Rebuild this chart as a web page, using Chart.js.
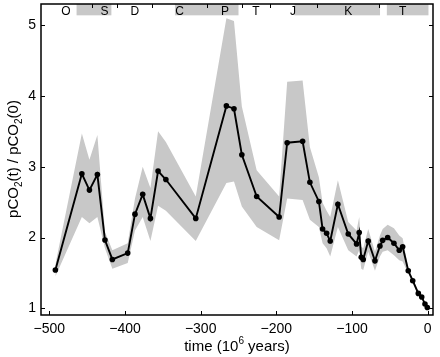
<!DOCTYPE html>
<html>
<head>
<meta charset="utf-8">
<script src="https://cdn.jsdelivr.net/npm/chart.js@4"></script>
<style>
html,body{margin:0;padding:0;background:#fff;}
canvas{display:block;}
</style>
</head>
<body>
<canvas id="c" width="440" height="357"></canvas>
<script>
// time (Myr before present)
const times = [-492,-457,-447,-436.5,-426.5,-416.7,-396.4,-386.8,-376.6,-366.4,-356.3,-346,-306.5,-266,-256,-245.6,-226,-196.3,-185.7,-165.3,-155.7,-143.8,-138.9,-133.6,-128.8,-118.7,-105,-94,-90.5,-87.8,-85.2,-78.6,-69.7,-63.1,-59.5,-52.9,-44.6,-37.6,-33.1,-25.7,-19.8,-12.4,-7.9,-3.6,-0.5];
// pCO2(t)/pCO2(0)
const values = [1.54,2.90,2.67,2.89,1.965,1.69,1.78,2.33,2.61,2.27,2.94,2.82,2.27,3.86,3.82,3.17,2.58,2.29,3.34,3.36,2.78,2.51,2.12,2.06,1.95,2.47,2.05,1.91,2.07,1.72,1.69,1.95,1.67,1.88,1.96,2.00,1.92,1.82,1.87,1.53,1.39,1.21,1.16,1.06,1.01];
const upperBound = [1.62,3.47,3.10,3.45,2.08,1.82,1.92,2.55,3.00,2.70,3.50,3.35,2.58,5.10,5.06,3.85,2.95,2.58,4.20,4.22,3.28,2.85,2.49,2.38,2.29,2.81,2.22,2.10,2.29,1.87,1.85,2.12,1.80,2.03,2.12,2.18,2.13,2.03,1.99,1.57,1.42,1.24,1.18,1.08,1.02];
const lowerBound = [1.45,2.29,2.20,2.29,1.85,1.56,1.64,2.10,2.29,1.95,2.45,2.38,1.95,2.77,2.79,2.44,2.15,1.96,2.55,2.53,2.25,2.15,1.92,1.85,1.73,2.15,1.82,1.73,1.82,1.56,1.54,1.80,1.53,1.73,1.80,1.82,1.75,1.68,1.66,1.49,1.36,1.18,1.14,1.04,1.00];

const xTickValues = [-500,-400,-300,-200,-100,0];
const yTickValues = [1,2,3,4,5];

// geological period strip
const periodLabels = ['O','S','D','C','P','T','J','K','T'];
const periodLabelPos = [-478,-427,-387,-328,-268,-227,-178,-105,-33];
const periodBoundaries = [-443,-410,-364,-291,-246,-209,-146,-65];
const shadedBandStart = [-464,-334,-176,-54];
const shadedBandEnd = [-418,-250,-63,1];

const GRAY = 'rgb(200,200,200)';
const FONT = '"Liberation Sans", Arial, Helvetica, sans-serif';

const pts = (ys) => times.map((t,i)=>({x:t,y:ys[i]}));

const framePlugin = {
  id:'frame',
  beforeDatasetsDraw(chart){
    const {ctx, chartArea:a, scales:{x,y}} = chart;
    ctx.save();
    ctx.fillStyle = GRAY;
    const yTop = a.top, yBot = y.getPixelForValue(5.14);
    for(let i=0;i<shadedBandStart.length;i++){
      const x0 = x.getPixelForValue(shadedBandStart[i]);
      const x1 = Math.min(x.getPixelForValue(shadedBandEnd[i]), a.right);
      ctx.fillRect(x0, yTop, x1-x0, yBot-yTop);
    }
    ctx.restore();
  },
  afterDraw(chart){
    const {ctx, chartArea:a, scales:{x,y}} = chart;
    ctx.save();
    ctx.strokeStyle = '#000';
    ctx.lineWidth = 1.5;
    ctx.strokeRect(a.left, a.top, a.right-a.left, a.bottom-a.top);
    ctx.lineWidth = 1;
    ctx.beginPath();
    const L = 4;
    xTickValues.forEach(v=>{
      const px = Math.round(x.getPixelForValue(v))+0.5;
      ctx.moveTo(px, a.bottom); ctx.lineTo(px, a.bottom-L);
    });
    yTickValues.forEach(v=>{
      const py = Math.round(y.getPixelForValue(v))+0.5;
      ctx.moveTo(a.left, py); ctx.lineTo(a.left+L, py);
      ctx.moveTo(a.right, py); ctx.lineTo(a.right-L, py);
    });
    periodBoundaries.forEach(v=>{
      const px = Math.round(x.getPixelForValue(v))+0.5;
      ctx.moveTo(px, a.top); ctx.lineTo(px, a.top+L);
    });
    ctx.stroke();

    // period labels
    ctx.fillStyle = '#000';
    ctx.font = '12px ' + FONT;
    ctx.textAlign = 'center';
    ctx.textBaseline = 'middle';
    periodLabels.forEach((s,i)=>{
      ctx.fillText(s, x.getPixelForValue(periodLabelPos[i]), 11.5);
    });

    // x title: time (10^6 years)
    ctx.textBaseline = 'alphabetic';
    ctx.textAlign = 'left';
    const big = '15px ' + FONT, small = '10px ' + FONT;
    const parts = [['time (10',big,0],['6',small,-7],[' years)',big,0]];
    let w = 0;
    parts.forEach(p=>{ctx.font=p[1]; w+=ctx.measureText(p[0]).width;});
    let cx = 237 - w/2;
    parts.forEach(p=>{ctx.font=p[1]; ctx.fillText(p[0], cx, 351+p[2]); cx+=ctx.measureText(p[0]).width;});

    // y title: pCO2(t) / pCO2(0)
    ctx.translate(18, 159);
    ctx.rotate(-Math.PI/2);
    const yparts = [['pCO',big,0],['2',small,4],['(t) / pCO',big,0],['2',small,4],['(0)',big,0]];
    w = 0;
    yparts.forEach(p=>{ctx.font=p[1]; w+=ctx.measureText(p[0]).width;});
    cx = -w/2;
    yparts.forEach(p=>{ctx.font=p[1]; ctx.fillText(p[0], cx, 0+p[2]); cx+=ctx.measureText(p[0]).width;});
    ctx.restore();
  }
};

new Chart(document.getElementById('c'), {
  type:'line',
  data:{
    datasets:[
      {data:pts(upperBound), borderWidth:0, pointRadius:0, fill:'+1', backgroundColor:GRAY, borderColor:GRAY, tension:0, order:2},
      {data:pts(lowerBound), borderWidth:0, pointRadius:0, fill:false, borderColor:GRAY, tension:0, order:3},
      {data:pts(values), borderColor:'#000', borderWidth:1.9, pointRadius:2.8, pointBackgroundColor:'#000', pointBorderWidth:0, fill:false, tension:0, order:0}
    ]
  },
  options:{
    responsive:false,
    animation:false,
    events:[],
    layout:{padding:{top:4,right:7,left:0,bottom:0}},
    plugins:{legend:{display:false}, tooltip:{enabled:false}},
    scales:{
      x:{
        type:'linear', min:-511, max:7,
        afterBuildTicks(s){ s.ticks = xTickValues.map(v=>({value:v})); },
        afterFit(s){ s.height = 42; s.paddingLeft = 0; s.paddingRight = 0; },
        grid:{display:false, drawTicks:false},
        border:{display:false},
        ticks:{padding:6, color:'#000', font:{size:14, family:FONT}, maxRotation:0, autoSkip:false,
          callback:(v)=> v<0 ? '\u2212'+Math.abs(v) : String(v)}
      },
      y:{
        type:'linear', min:0.905, max:5.3,
        afterBuildTicks(s){ s.ticks = yTickValues.map(v=>({value:v})); },
        afterFit(s){ s.width = 41; s.paddingTop = 0; s.paddingBottom = 0; },
        grid:{display:false, drawTicks:false},
        border:{display:false},
        ticks:{padding:5, color:'#000', font:{size:14, family:FONT}}
      }
    }
  },
  plugins:[framePlugin]
});
</script>
</body>
</html>
